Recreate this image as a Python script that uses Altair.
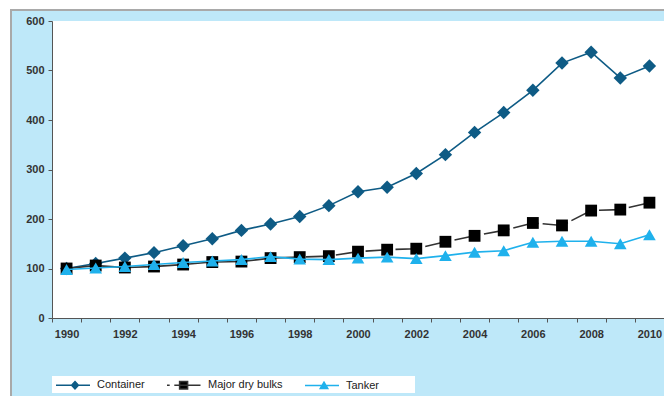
import altair as alt
import pandas as pd

# ---- data (index, 1990 = 100) ----
years = list(range(1990, 2011))
container = [100, 110, 121, 132, 146, 160, 177, 190, 205, 227, 255, 264, 292,
             330, 375, 415, 460, 515, 537, 485, 509]
dry_bulks = [100, 106, 102, 104, 108, 113, 114, 121, 123, 125, 134, 138, 140,
             154, 166, 177, 192, 187, 217, 219, 233]
tanker = [98, 101, 104, 108, 112, 115, 118, 124, 119, 118, 121, 123, 120,
          126, 133, 136, 153, 155, 155, 150, 168]
series_names = ["Container", "Major dry bulks", "Tanker"]
y_ticks = [0, 100, 200, 300, 400, 500, 600]

# ---- styles ----
C_CONT = "#0E5B85"
C_DRY_LINE = "#333333"
C_DRY_PT = "#000000"
C_TANK = "#1FB1EC"
BG = "#BEE8F9"
FONT = "Liberation Sans"
W, H = 612, 297

rows = []
for name, vals in zip(series_names, [container, dry_bulks, tanker]):
    for yr, v in zip(years, vals):
        rows.append({"year": yr, "value": v, "series": name})
df = pd.DataFrame(rows)

x_enc = alt.X(
    "year:O",
    bandPosition=0.5,
    scale=alt.Scale(type="band", paddingInner=0, paddingOuter=0),
    axis=alt.Axis(
        title=None,
        labelAngle=0,
        tickBand="extent",
        labelExpr="datum.value % 2 == 0 ? datum.label : ''",
        tickSize=4,
        labelPadding=6,
        zindex=1,
    ),
)
y_enc = alt.Y(
    "value:Q",
    scale=alt.Scale(domain=[0, 600], nice=False),
    axis=alt.Axis(title=None, values=y_ticks, grid=False, tickSize=4,
                  labelPadding=4, zindex=1),
)

base = alt.Chart(df)

def series_layers(name, line_color, pt_color, shape, size, dash=None):
    d = base.transform_filter(alt.datum.series == name)
    line_kwargs = dict(color=line_color, strokeWidth=1.6)
    if dash:
        line_kwargs["strokeDash"] = dash
    line = d.mark_line(**line_kwargs).encode(x=x_enc, y=y_enc)
    pts = d.mark_point(filled=True, shape=shape, size=size, color=pt_color,
                       opacity=1).encode(x=x_enc, y=y_enc)
    return [line, pts]

layers = []
layers += series_layers("Container", C_CONT, C_CONT, "diamond", 180)
layers += series_layers("Major dry bulks", C_DRY_LINE, C_DRY_PT, "square", 140, dash=[26, 4])
layers += series_layers("Tanker", C_TANK, C_TANK, "triangle-up", 160)

# ---- legend (line + marker symbols); paths in units of 5 px ----
legend_paths = [
    "M-1,0L5.8,0M2.8,-0.72L3.48,0L2.8,0.72L2.12,0Z",
    "M-1,0L-0.46,0M0.46,0L5.7,0M1.52,-0.75L3.12,-0.75L3.12,0.75L1.52,0.75Z",
    "M-1,0L5.8,0M2.8,-0.68L3.55,0.58L2.05,0.58Z",
]
legend_df = pd.DataFrame({"series": series_names})
legend_layer = alt.Chart(legend_df).transform_filter(
    alt.datum.series == "__none__"
).mark_point(filled=True).encode(
    shape=alt.Shape(
        "series:N",
        scale=alt.Scale(domain=series_names, range=legend_paths),
        legend=alt.Legend(
            title=None,
            orient="none",
            direction="horizontal",
            legendX=0,
            legendY=355,
            padding=3,
            symbolSize=100,
            symbolStrokeWidth=1.5,
            symbolOpacity=1,
            labelFont=FONT,
            labelFontSize=11,
            labelColor="#222222",
            labelOffset=30,
            columnPadding=19,
        ),
    ),
    fill=alt.Fill("series:N", scale=alt.Scale(domain=series_names,
                                              range=[C_CONT, C_DRY_PT, C_TANK]),
                  legend=alt.Legend(title=None)),
    stroke=alt.Stroke("series:N", scale=alt.Scale(domain=series_names,
                                                  range=[C_CONT, C_DRY_LINE, C_TANK]),
                      legend=alt.Legend(title=None)),
)

# ---- frame decoration (white plot area, legend box, margin strips + gray border) ----
one = pd.DataFrame({"a": [0]})
plot_bg = alt.Chart(one).mark_rect(color="white").encode(
    x=alt.value(0), x2=alt.value(W), y=alt.value(0), y2=alt.value(H))
legend_box = alt.Chart(one).mark_rect(color="white").encode(
    x=alt.value(0), x2=alt.value(363), y=alt.value(355), y2=alt.value(372))
strip_left = alt.Chart(one).mark_rect(color="white").encode(
    x=alt.value(-52), x2=alt.value(-42), y=alt.value(-21), y2=alt.value(375))
strip_top = alt.Chart(one).mark_rect(color="white").encode(
    x=alt.value(-52), x2=alt.value(W), y=alt.value(-21), y2=alt.value(-12))
border_v = alt.Chart(one).mark_rule(color="#A9A9A9", strokeWidth=2).encode(
    x=alt.value(-41), y=alt.value(-12), y2=alt.value(375))
border_h = alt.Chart(one).mark_rule(color="#A9A9A9", strokeWidth=2).encode(
    x=alt.value(-42), x2=alt.value(W), y=alt.value(-11))

chart = alt.layer(
    plot_bg, legend_box, strip_left, strip_top, border_v, border_h, *layers, legend_layer
).properties(
    width=W,
    height=H,
    autosize=alt.AutoSizeParams(type="none"),
    padding={"left": 52, "top": 21, "right": 0, "bottom": 78},
    background=BG,
).configure_view(
    stroke=None
).configure_axis(
    labelFont=FONT,
    labelFontSize=11,
    labelFontWeight="bold",
    labelColor="#333333",
    domainColor="#555555",
    tickColor="#555555",
    domainWidth=1,
)

chart.save("out.html", embed_options={"renderer": "svg", "actions": False})
